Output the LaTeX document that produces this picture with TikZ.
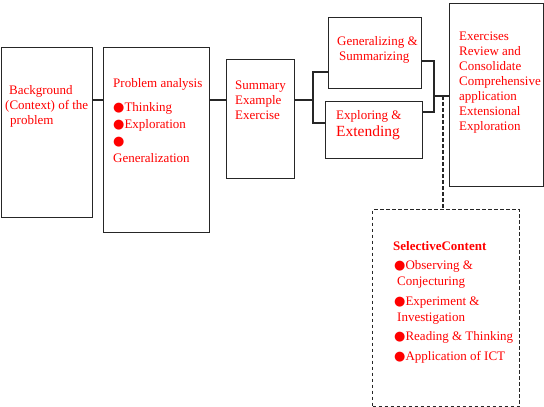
\documentclass[tikz,border=0pt]{standalone}
\usepackage{fontspec}
\setmainfont{Liberation Serif}
\newfontfamily\dotfont{DejaVu Sans}
\newcommand\rdot{{\dotfont\fontsize{13}{13}\selectfont ●}}
\begin{document}
\begin{tikzpicture}[x=1pt,y=-1pt,
  box/.style={draw, line width=1.2pt, draw=black!85, anchor=north west, inner sep=0},
  dbox/.style={box, dash pattern=on 3.5pt off 2.5pt},
  txt/.style={text=red, anchor=north west, align=left, inner sep=0,
    font=\fontsize{13}{15}\selectfont, execute at begin node=\strut}]
\useasboundingbox (0,0) rectangle (544,407);
% boxes
\node[box, minimum width=91, minimum height=170] (bg) at (0.6,47) {};
\node[box, minimum width=106, minimum height=185] (pa) at (103,47) {};
\node[box, minimum width=68, minimum height=119] (sum) at (226,59) {};
\node[box, minimum width=93, minimum height=71] (gen) at (328,17) {};
\node[box, minimum width=97, minimum height=57] (exp) at (325,101) {};
\node[box, minimum width=94, minimum height=183] (ex) at (449,2.5) {};
\node[dbox, minimum width=147, minimum height=197] (sel) at (372,209) {};
% texts (top = first baseline - 10.5)
\node[txt] (bgt) at (5,85.5) {\hspace{4pt}Background\\(Context) of the\\\hspace{5pt}problem};
\node[txt] (pat) at (113,78.5) {Problem analysis\\[9pt]\rdot Thinking\\[2pt]\rdot Exploration\\[2pt]\rdot\\[2pt]Generalization};
\node[txt] (sumt) at (235,80.5) {Summary\\Example\\Exercise};
\node[txt] (gent) at (337,36.5) {Generalizing \&\\\hspace{2pt}Summarizing};
\node[txt] (expt) at (336,110.5) {Exploring \&\\[2pt]{\fontsize{15.5}{15}\selectfont Extending}};
\node[txt] (ext) at (459,31.5) {Exercises\\Review and\\Consolidate\\Comprehensive\\application\\Extensional\\Exploration};
\node[txt, font=\fontsize{13}{15}\selectfont\bfseries] (selt) at (393,239.5) {SelectiveContent};
\node[txt] (selb) at (394,260.5) {\rdot Observing \&\\[1pt]\hspace{3pt}Conjecturing\\[5pt]\rdot Experiment \&\\[1pt]\hspace{3pt}Investigation\\[4pt]\rdot Reading \& Thinking\\[5pt]\rdot Application of ICT};
% connectors
\coordinate (m1) at (100,100);
\coordinate (f1) at (313,100);
\coordinate (ga) at (313,72);
\coordinate (eb) at (313,123);
\coordinate (gr) at (434,61);
\coordinate (er) at (434,112);
\coordinate (f2) at (434,96);
\coordinate (d1) at (443,96);
\tikzset{every path/.append style={line width=1.2pt, draw=black!85}}
\draw (bg.east|-m1) -- (pa.west|-m1);
\draw (pa.east|-m1) -- (sum.west|-m1);
\draw (sum.east|-m1) -- (f1);
\draw (gen.west|-ga) -- (ga) -- (eb) -- (exp.west|-eb);
\draw (gen.east|-gr) -- (gr) -- (er) -- (exp.east|-er);
\draw (f2) -- (ex.west|-f2);
\draw[dash pattern=on 3.5pt off 2.5pt] (d1) -- (d1|-sel.north);
\end{tikzpicture}
\end{document}
